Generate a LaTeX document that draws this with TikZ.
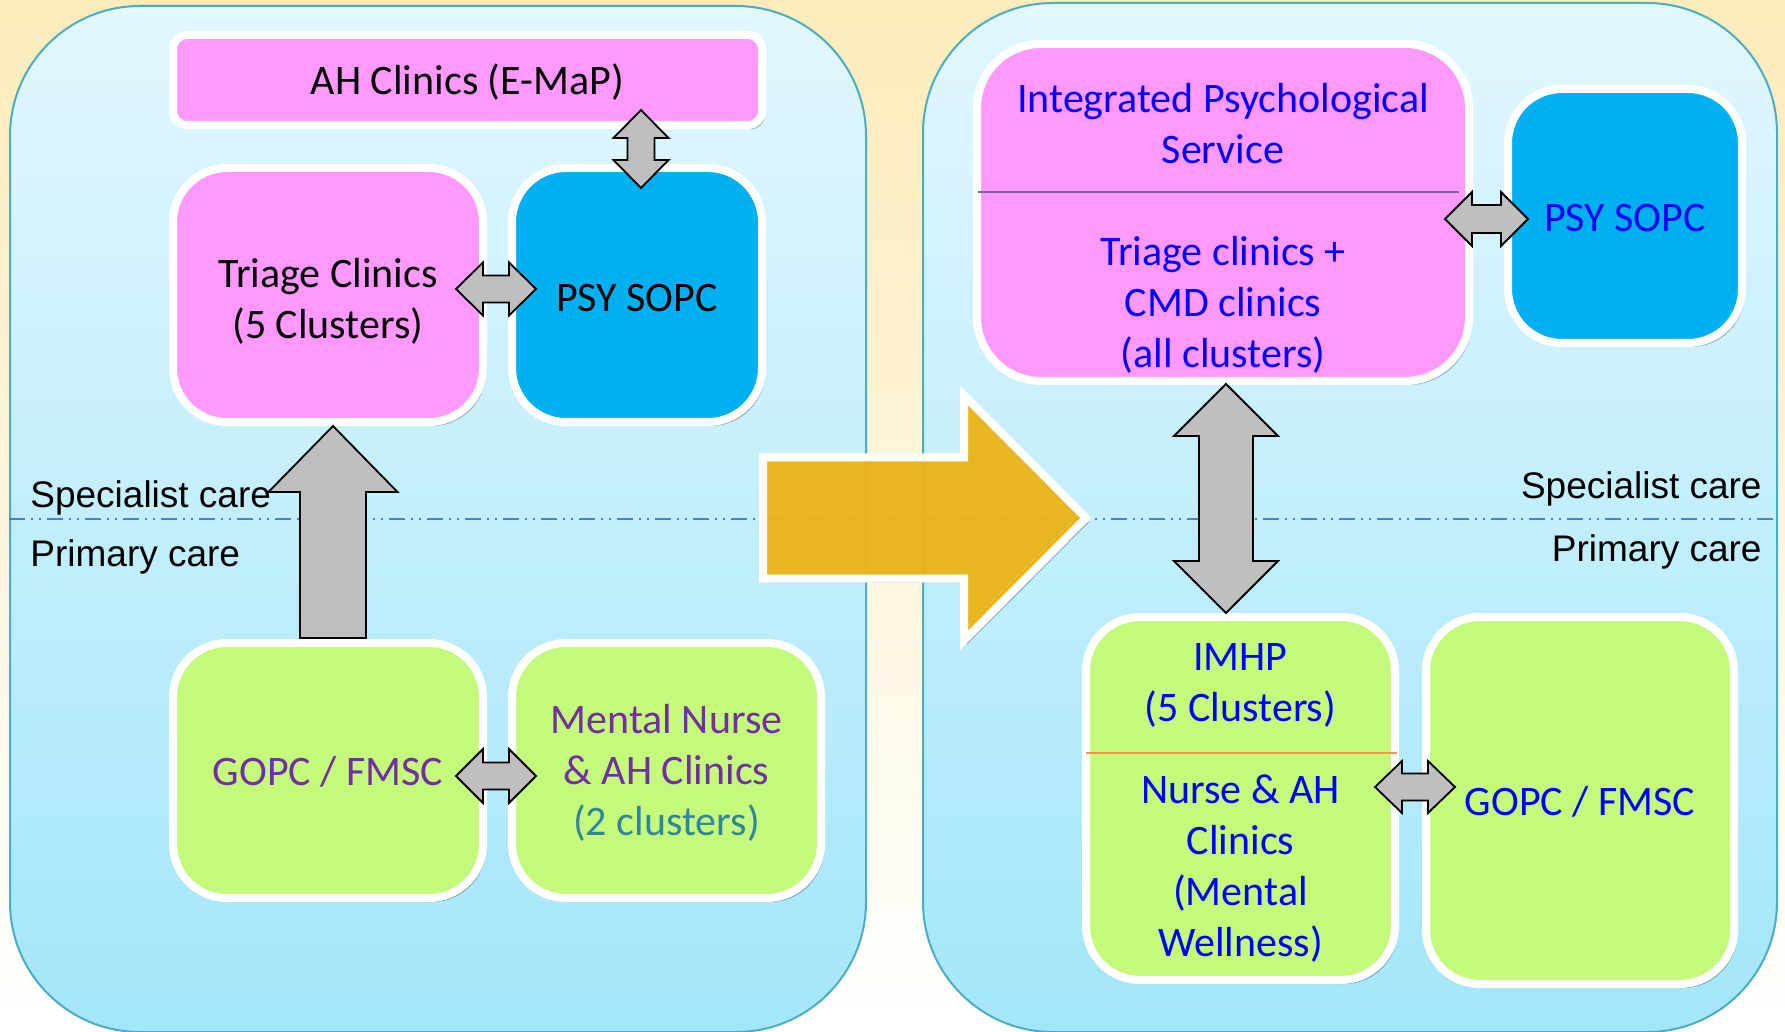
\documentclass[tikz,border=0pt]{standalone}
\usepackage{fontspec}
\setmainfont{Carlito}
\newfontfamily\arialfont{Liberation Sans}
\usepackage{tikz}
\usetikzlibrary{calc,shadows}

\definecolor{boxpink}{HTML}{FF99FF}
\definecolor{boxcyan}{HTML}{00B0F0}
\definecolor{boxgreen}{HTML}{C4F97C}
\definecolor{txtpurple}{HTML}{7030A0}
\definecolor{txtteal}{HTML}{31859C}
\definecolor{arrowgray}{HTML}{BFBFBF}
\definecolor{bigyellow}{HTML}{EEB719}
\definecolor{panelline}{HTML}{4BACC6}
\definecolor{paneltop}{HTML}{E2F7FE}
\definecolor{panelbot}{HTML}{A3E6FA}
\definecolor{caredash}{HTML}{4F7FC0}
\definecolor{bgtop}{HTML}{FDEBB9}
\definecolor{ipssplit}{HTML}{8064A2}
\definecolor{imhpsplit}{HTML}{F79646}

% block arrow, head at both tips: [style]{tip}{tip}{shaft half}{head half}{head length}
\newcommand{\twoway}[6][blockarrow]{%
  \draw[#1] (#2)
    -- ($(#2)!#6!(#3)!#5!90:(#3)$)
    -- ($(#2)!#6!(#3)!#4!90:(#3)$)
    -- ($(#3)!#6!(#2)!#4!-90:(#2)$)
    -- ($(#3)!#6!(#2)!#5!-90:(#2)$)
    -- (#3)
    -- ($(#3)!#6!(#2)!#5!90:(#2)$)
    -- ($(#3)!#6!(#2)!#4!90:(#2)$)
    -- ($(#2)!#6!(#3)!#4!-90:(#3)$)
    -- ($(#2)!#6!(#3)!#5!-90:(#3)$)
    -- cycle;}
% block arrow, one head: [style]{tail}{tip}{shaft half}{head half}{head length}
\newcommand{\oneway}[6][blockarrow]{%
  \draw[#1] ($(#2)!#4!90:(#3)$)
    -- ($(#3)!#6!(#2)!#4!-90:(#2)$)
    -- ($(#3)!#6!(#2)!#5!-90:(#2)$)
    -- (#3)
    -- ($(#3)!#6!(#2)!#5!90:(#2)$)
    -- ($(#3)!#6!(#2)!#4!90:(#2)$)
    -- ($(#2)!#4!-90:(#3)$)
    -- cycle;}

\begin{document}
\begin{tikzpicture}[x=0.5pt,y=-0.5pt,
  box/.style={draw=white, line width=4pt, rounded corners=27pt,
    drop shadow={shadow xshift=1.5pt, shadow yshift=-2pt, opacity=0.3, fill=black}},
  boxtxt/.style={align=center, inner sep=0pt, font=\fontsize{21}{25.5}\selectfont},
  bluetxt/.style={boxtxt, text=blue},
  panel/.style={draw=panelline, line width=1pt, rounded corners=65pt,
    top color=paneltop, bottom color=panelbot},
  blockarrow/.style={draw=black, line width=0.9pt, fill=arrowgray, line join=miter},
  bigarrow/.style={draw=white, line width=4pt, fill=bigyellow, fill opacity=0.95,
    drop shadow={shadow xshift=1.5pt, shadow yshift=-2pt, opacity=0.3, fill=black}},
  carelbl/.style={font=\arialfont\fontsize{18.5}{21}\selectfont, inner sep=0pt},
  careline/.style={caredash, line width=1.3pt,
    dash pattern=on 8pt off 3pt on 1pt off 3pt on 1pt off 3pt}]
\fill[top color=bgtop, bottom color=white] (0,0) rectangle (1785,1032);
\useasboundingbox (0,0) rectangle (1785,1032);

% the two panels
\node[panel, minimum width=428pt, minimum height=513pt] (before) at (438,519) {};
\node[panel, minimum width=427pt, minimum height=514.5pt] (after) at (1350,517.5) {};
\draw[careline] (before.west) -- (after.east |- before.west);

\node[carelbl, anchor=west] (spec1) at (30,497.5) {Specialist care};
\node[carelbl, anchor=west] (prim1) at (30,556.5) {Primary care};
\node[carelbl, anchor=east] (spec2) at (1762,488.5) {Specialist care};
\node[carelbl, anchor=east] (prim2) at (1762,552) {Primary care};

% left: now
\node[box, fill=boxpink, rounded corners=7pt, minimum width=294.5pt, minimum height=45pt] (ah) at (467.5,80) {};
\node[boxtxt] (ahtxt) at ($(ah)+(0,2.5)$) {AH Clinics (E-MaP)};
\node[box, fill=boxpink, minimum width=155pt, minimum height=127pt] (tri) at (328,295) {};
\node[boxtxt] (tritxt) at ($(tri)+(0,6)$) {Triage Clinics\\(5 Clusters)};
\node[box, fill=boxcyan, minimum width=125pt, minimum height=127pt] (psyl) at (637,295) {};
\node[boxtxt] (psyltxt) at ($(psyl)+(0,3.5)$) {PSY SOPC};
\node[box, fill=boxgreen, minimum width=155pt, minimum height=127.5pt] (gopcl) at (328,770.5) {};
\node[boxtxt, text=txtpurple] (gopcltxt) at ($(gopcl)+(0,1)$) {GOPC / FMSC};
\node[box, fill=boxgreen, minimum width=154.5pt, minimum height=127.5pt] (mental) at (666.5,770.5) {};
\node[boxtxt, text=txtpurple] (mentaltxt) at ($(mental)+(0,2)$) {Mental Nurse\\\& AH Clinics\\\textcolor{txtteal}{(2 clusters)}};

% right: planned
\node[box, fill=boxpink, rounded corners=32pt, minimum width=246pt, minimum height=168.5pt] (ips) at (1223,212.5) {};
\node[bluetxt] (ipstop) at ($(ips.north)+(0,83.5)$) {Integrated Psychological\\Service};
\node[bluetxt] (ipsbot) at ($(ips.south)+(0,-80)$) {Triage clinics +\\CMD clinics\\(all clusters)};
\draw[ipssplit, line width=1pt] ($(ips.north west)+(5,152)$) -- ($(ips.north east)+(-14,152)$);
\node[box, fill=boxcyan, minimum width=117pt, minimum height=127pt] (psyr) at (1625,216) {};
\node[bluetxt] (psyrtxt) at ($(psyr)+(0,2)$) {PSY SOPC};
\node[box, fill=boxgreen, minimum width=154.5pt, minimum height=181.5pt] (imhp) at (1240.5,798.5) {};
\node[bluetxt] (imhptop) at ($(imhp.north)+(0,72.5)$) {IMHP\\(5 Clusters)};
\node[bluetxt] (imhpbot) at ($(imhp.south)+(0,-115)$) {Nurse \& AH\\Clinics\\(Mental\\Wellness)};
\draw[imhpsplit, line width=1pt] ($(imhp.north west)+(4,140)$) -- ($(imhp.north east)+(-2,140)$);
\node[box, fill=boxgreen, minimum width=154pt, minimum height=183.5pt] (gopcr) at (1580,800.5) {};
\node[bluetxt] (gopcrtxt) at ($(gopcr)+(0,1)$) {GOPC / FMSC};

% arrow tips
\coordinate (a1) at ($(tri.east)+(-31,-6)$);
\coordinate (a2) at ($(psyl.west)+(28,-6)$);
\coordinate (a3) at ($(psyl.north)+(4,24)$);
\coordinate (a4) at ($(psyl.north |- ah.south)+(4,-19)$);
\coordinate (a5) at ($(gopcl.north)+(5,-1)$);
\coordinate (a6) at ($(tri.south)+(5,0)$);
\coordinate (a7) at ($(gopcl.east)+(-31,5.5)$);
\coordinate (a8) at ($(mental.west)+(28,5.5)$);
\coordinate (b1) at ($(ips.east |- psyr.west)+(-28,3)$);
\coordinate (b2) at ($(psyr.west)+(24,3)$);
\coordinate (b3) at ($(ips.south)+(3,-1)$);
\coordinate (b4) at ($(ips.south |- imhp.north)+(3,0)$);
\coordinate (b5) at ($(imhp.east)+(-24,-11.5)$);
\coordinate (b6) at ($(gopcr.west |- imhp.east)+(33,-11.5)$);
\coordinate (y1) at ($(before.east)+(-104,-1)$);
\coordinate (y2) at ($(after.west |- before.east)+(164,-1)$);

\twoway{a1}{a2}{6.75pt}{13.25pt}{13.5pt}
\twoway{a3}{a4}{6.75pt}{13.75pt}{14pt}
\oneway{a5}{a6}{16.5pt}{32.25pt}{33pt}
\twoway{a7}{a8}{6.75pt}{13.5pt}{13.5pt}
\twoway{b1}{b2}{7pt}{13.5pt}{13.5pt}
\twoway{b3}{b4}{13.5pt}{26pt}{26pt}
\twoway{b5}{b6}{6.75pt}{13pt}{13.5pt}
\oneway[bigarrow]{y1}{y2}{30.25pt}{61.25pt}{61pt}
\end{tikzpicture}
\end{document}
